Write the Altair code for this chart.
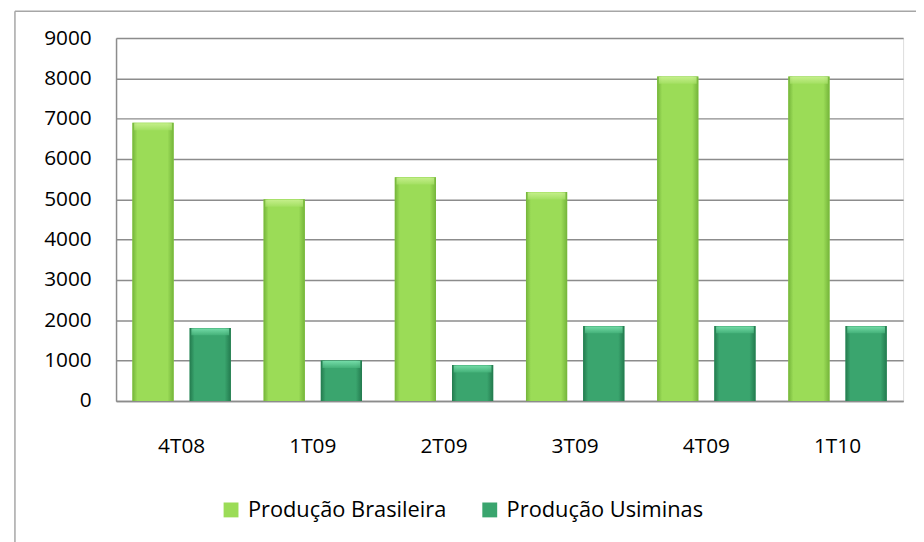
import altair as alt
import pandas as pd

categories = ["4T08", "1T09", "2T09", "3T09", "4T09", "1T10"]
producao_brasileira = [6900, 5000, 5550, 5180, 8050, 8050]
producao_usiminas = [1810, 1000, 890, 1860, 1860, 1860]
series_names = ["Produção Brasileira", "Produção Usiminas"]
series_colors = ["#9BDC57", "#3AA56E"]
y_ticks = [0, 1000, 2000, 3000, 4000, 5000, 6000, 7000, 8000, 9000]

rows = []
for c, b, u in zip(categories, producao_brasileira, producao_usiminas):
    rows.append({"cat": c, "serie": series_names[0], "valor": b})
    rows.append({"cat": c, "serie": series_names[1], "valor": u})
df = pd.DataFrame(rows)

W, H = 794, 366
FONT = "Open Sans"
GRID = "#8c8c8c"

x = alt.X("cat:N", sort=categories,
          scale=alt.Scale(paddingInner=0.25, paddingOuter=0.125),
          axis=alt.Axis(title=None, labelAngle=0, labelPadding=35, ticks=False,
                        domainColor=GRID, domainWidth=1.5, labelFontSize=21,
                        labelColor="#000000", labelFont=FONT, grid=False))
xo = alt.XOffset("serie:N", sort=series_names,
                 scale=alt.Scale(domain=series_names, paddingInner=0.28, paddingOuter=0))
y = alt.Y("valor:Q", scale=alt.Scale(domain=[0, 9000], nice=False),
          axis=alt.Axis(values=y_ticks, format="d", title=None, ticks=False, labelPadding=25,
                        labelFontSize=21, labelColor="#000000", labelFont=FONT,
                        grid=True, gridColor=GRID, gridWidth=1.5,
                        domainColor=GRID, domainWidth=1.5))

base = alt.Chart(df).mark_bar().encode(
    x=x, xOffset=xo, y=y,
    color=alt.Color("serie:N", sort=series_names,
                    scale=alt.Scale(domain=series_names, range=series_colors),
                    legend=alt.Legend(title=None, orient="none", legendX=105, legendY=465,
                                      direction="horizontal", symbolType="square",
                                      symbolSize=225, symbolStrokeWidth=0,
                                      labelFontSize=22, labelFont=FONT, labelLimit=0,
                                      labelColor="#000000", columnPadding=32,
                                      labelOffset=6, symbolOpacity=1)),
)

def grad_h(dark, mid):
    return alt.Gradient(gradient="linear", x1=0, x2=1, y1=0, y2=0,
                        stops=[alt.GradientStop(color=dark, offset=0),
                               alt.GradientStop(color=mid, offset=0.12),
                               alt.GradientStop(color=mid, offset=0.85),
                               alt.GradientStop(color=dark, offset=1)])

def grad_v(light, mid):
    return alt.Gradient(gradient="linear", x1=0, x2=0, y1=0, y2=1,
                        stops=[alt.GradientStop(color=light, offset=0),
                               alt.GradientStop(color=mid, offset=1)])

bras = alt.Chart(df).transform_filter(alt.datum.serie == series_names[0]).mark_bar(
    color=grad_h("#74B43A", "#9BDC57")).encode(x=x, xOffset=xo, y=y)
usim = alt.Chart(df).transform_filter(alt.datum.serie == series_names[1]).mark_bar(
    color=grad_h("#237A4E", "#3AA56E")).encode(x=x, xOffset=xo, y=y)

bras_top = alt.Chart(df).transform_filter(alt.datum.serie == series_names[0]).mark_tick(
    orient="horizontal", thickness=7, size=38, color=grad_v("#D6F7A0", "#A6E166")
).encode(x=x, xOffset=xo, y=y, yOffset=alt.value(4))
usim_top = alt.Chart(df).transform_filter(alt.datum.serie == series_names[1]).mark_tick(
    orient="horizontal", thickness=7, size=38, color=grad_v("#8CF2C0", "#48B67D")
).encode(x=x, xOffset=xo, y=y, yOffset=alt.value(4))

frame_df = pd.DataFrame({"k": [0]})
frame_v = alt.Chart(frame_df).mark_rule(color="#a6a6a6", strokeWidth=1.5).encode(
    x=alt.value(-102), y=alt.value(-27), y2=alt.value(H + 200))
frame_h = alt.Chart(frame_df).mark_rule(color="#a6a6a6", strokeWidth=1.5).encode(
    x=alt.value(-102), x2=alt.value(W + 60), y=alt.value(-27))

chart = alt.layer(base, bras, usim, bras_top, usim_top, frame_v, frame_h).properties(
    width=W, height=H,
    autosize=alt.AutoSizeParams(type="none"),
    padding={"left": 109, "top": 28, "right": 13, "bottom": 140},
).configure_view(stroke=None).configure(background="#ffffff")

chart.save("out.html", embed_options={"renderer": "svg", "actions": False})
